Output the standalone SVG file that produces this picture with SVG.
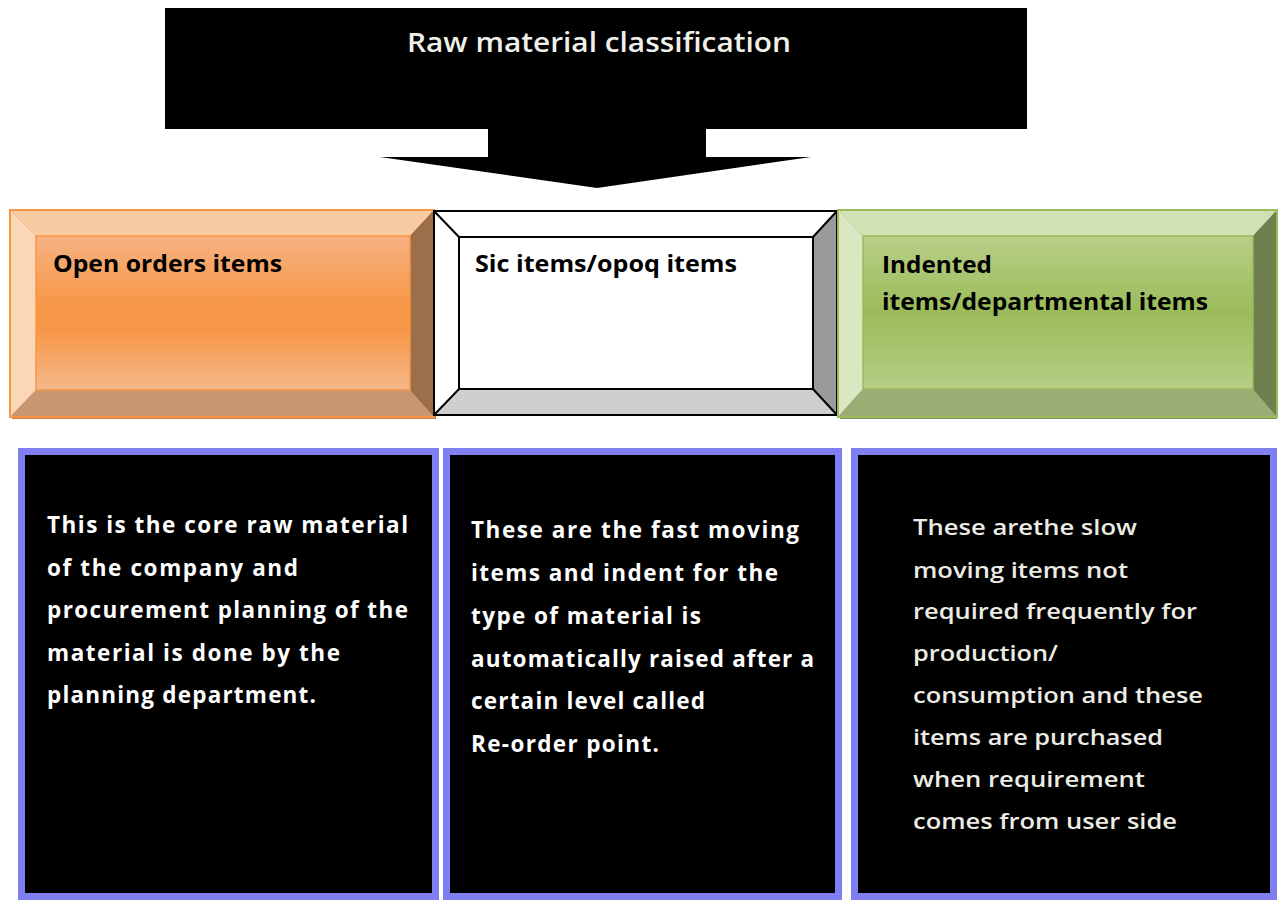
<svg xmlns="http://www.w3.org/2000/svg" width="1278" height="903" viewBox="0 0 1278 903">
<defs>
<linearGradient id="gOr" x1="0" y1="0" x2="0" y2="1">
<stop offset="0" stop-color="#f6b283"/><stop offset="0.45" stop-color="#f79646"/><stop offset="0.6" stop-color="#f79646"/><stop offset="1" stop-color="#f6b88b"/>
</linearGradient>
<linearGradient id="gGr" x1="0" y1="0" x2="0" y2="1">
<stop offset="0" stop-color="#b8cf88"/><stop offset="0.5" stop-color="#9bbb59"/><stop offset="1" stop-color="#b6cf86"/>
</linearGradient>
<style>
.hd{font-family:"Open Sans","Liberation Sans",sans-serif;font-weight:700;font-size:23px;fill:#000}
.bt{font-family:"Open Sans","Liberation Sans",sans-serif;font-weight:700;font-size:22.5px;fill:#fff}
.bt3{font-family:"Open Sans","Liberation Sans",sans-serif;font-weight:600;font-size:22px;fill:#ecece4}
.ttl{font-family:"Open Sans","Liberation Sans",sans-serif;font-weight:600;font-size:27px;fill:#f0f0ea}
.box{fill:#000;stroke:#7f7ff2;stroke-width:7}
</style>
</defs>
<rect width="1278" height="903" fill="#fff"/>

<g id="title">
<rect x="165" y="8" width="862" height="121" fill="#000"/>
<text class="ttl" x="407" y="52" textLength="384" lengthAdjust="spacingAndGlyphs">Raw material classification</text>
</g>

<g id="connectors">
<polygon points="488,128 706,128 706,157 811,157 597,188 380,157 488,157" fill="#000"/>
</g>

<g id="open-orders">
<rect x="12" y="212" width="424" height="207" fill="#c55a11" opacity="0.8"/>
<rect x="36" y="236" width="374" height="154" fill="url(#gOr)"/>
<polygon points="10,210 434,210 410,236 36,236" fill="#f9cba3"/>
<polygon points="10,210 36,236 36,390 10,417" fill="#fbd6b7"/>
<polygon points="434,210 434,417 410,390 410,236" fill="#9c6e4a"/>
<polygon points="10,417 36,390 410,390 434,417" fill="#c8976f"/>
<rect x="10" y="210" width="424" height="207" fill="none" stroke="#f79646" stroke-width="2"/>
<rect x="36" y="236" width="374" height="154" fill="none" stroke="#f79646" stroke-width="1.5"/>
<text class="hd" x="53" y="272" textLength="229" lengthAdjust="spacingAndGlyphs">Open orders items</text>
</g>

<g id="sic-items">
<rect x="459" y="237" width="354" height="152" fill="#fff"/>
<polygon points="434,211 837,211 813,237 459,237" fill="#fff"/>
<polygon points="434,211 459,237 459,389 434,415" fill="#fff"/>
<polygon points="837,211 837,415 813,389 813,237" fill="#9a9a9a"/>
<polygon points="434,415 459,389 813,389 837,415" fill="#cfcfcf"/>
<g fill="none" stroke="#000" stroke-width="2">
<rect x="434" y="211" width="403" height="204"/>
<rect x="459" y="237" width="354" height="152"/>
<line x1="434" y1="211" x2="459" y2="237"/><line x1="837" y1="211" x2="813" y2="237"/>
<line x1="434" y1="415" x2="459" y2="389"/><line x1="837" y1="415" x2="813" y2="389"/>
</g>
<text class="hd" x="475" y="272" textLength="262" lengthAdjust="spacingAndGlyphs">Sic items/opoq items</text>
</g>

<g id="indented">
<rect x="840" y="212" width="437" height="207" fill="#4f6228" opacity="0.7"/>
<rect x="863" y="236" width="390" height="153" fill="url(#gGr)"/>
<polygon points="838,210 1277,210 1253,236 863,236" fill="#d2e1b3"/>
<polygon points="838,210 863,236 863,389 838,417" fill="#dae7c3"/>
<polygon points="1277,210 1277,417 1253,389 1253,236" fill="#6f7f50"/>
<polygon points="838,417 863,389 1253,389 1277,417" fill="#9bad74"/>
<rect x="838" y="210" width="439" height="207" fill="none" stroke="#9bbb59" stroke-width="2"/>
<rect x="863" y="236" width="390" height="153" fill="none" stroke="#9bbb59" stroke-width="1.5"/>
<text class="hd" x="882" y="273" textLength="110" lengthAdjust="spacingAndGlyphs">Indented</text>
<text class="hd" x="882" y="310" textLength="326" lengthAdjust="spacingAndGlyphs">items/departmental items</text>
</g>

<g id="desc-open-orders">
<rect class="box" x="21.5" y="451.5" width="414" height="445"/>
<text class="bt" x="47" y="533" textLength="361" lengthAdjust="spacing">This is the core raw material</text>
<text class="bt" x="47" y="576" textLength="251" lengthAdjust="spacing">of the company and</text>
<text class="bt" x="47" y="618" textLength="361" lengthAdjust="spacing">procurement planning of the</text>
<text class="bt" x="47" y="661" textLength="293" lengthAdjust="spacing">material is done by the</text>
<text class="bt" x="47" y="703" textLength="269" lengthAdjust="spacing">planning department.</text>
</g>

<g id="desc-sic-items">
<rect class="box" x="446.5" y="451.5" width="392" height="445"/>
<text class="bt" x="471" y="538" textLength="328" lengthAdjust="spacing">These are the fast moving</text>
<text class="bt" x="471" y="581" textLength="307" lengthAdjust="spacing">items and indent for the</text>
<text class="bt" x="471" y="624" textLength="230" lengthAdjust="spacing">type of material is</text>
<text class="bt" x="471" y="667" textLength="343" lengthAdjust="spacing">automatically raised after a</text>
<text class="bt" x="471" y="709" textLength="234" lengthAdjust="spacing">certain level called</text>
<text class="bt" x="471" y="752" textLength="188" lengthAdjust="spacing">Re-order point.</text>
</g>

<g id="desc-indented">
<rect class="box" x="854.5" y="451.5" width="419" height="445"/>
<text class="bt3" x="913" y="535" textLength="224" lengthAdjust="spacingAndGlyphs">These arethe slow</text>
<text class="bt3" x="913" y="578" textLength="215" lengthAdjust="spacingAndGlyphs">moving items not</text>
<text class="bt3" x="913" y="619" textLength="284" lengthAdjust="spacingAndGlyphs">required frequently for</text>
<text class="bt3" x="913" y="661" textLength="145" lengthAdjust="spacingAndGlyphs">production/</text>
<text class="bt3" x="913" y="703" textLength="290" lengthAdjust="spacingAndGlyphs">consumption and these</text>
<text class="bt3" x="913" y="745" textLength="250" lengthAdjust="spacingAndGlyphs">items are purchased</text>
<text class="bt3" x="913" y="787" textLength="232" lengthAdjust="spacingAndGlyphs">when requirement</text>
<text class="bt3" x="913" y="829" textLength="264" lengthAdjust="spacingAndGlyphs">comes from user side</text>
</g>
</svg>
